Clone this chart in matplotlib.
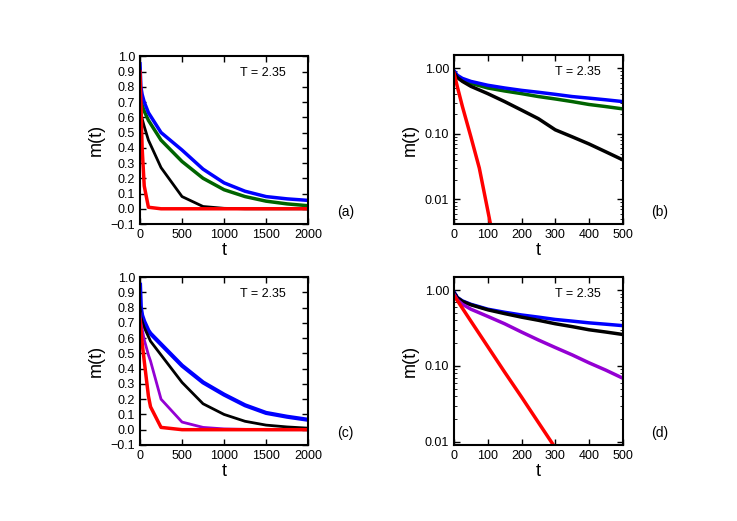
import matplotlib.pyplot as plt
import numpy as np

plt.rcParams['font.family'] = 'Liberation Sans'

# panel (a): linear, long time
t_a = [0, 10, 25, 50, 100, 250, 500, 750, 1000, 1250, 1500, 1750, 2000]
a_blue = [0.95, 0.80, 0.75, 0.70, 0.63, 0.50, 0.385, 0.26, 0.17, 0.115, 0.08, 0.065, 0.055]
a_green = [0.75, 0.72, 0.68, 0.64, 0.58, 0.45, 0.31, 0.20, 0.125, 0.08, 0.05, 0.032, 0.02]
a_black = [0.65, 0.62, 0.59, 0.54, 0.45, 0.27, 0.08, 0.015, 0.003, 0.0, 0.0, 0.0, 0.0]
a_red = [0.90, 0.70, 0.40, 0.15, 0.01, 0.0, 0.0, 0.0, 0.0, 0.0, 0.0, 0.0, 0.0]

# panel (b): log, short time
t_b = [0, 10, 25, 50, 100, 150, 200, 250, 300, 350, 400, 450, 500]
b_blue = [0.92, 0.78, 0.70, 0.63, 0.55, 0.50, 0.46, 0.43, 0.40, 0.37, 0.35, 0.33, 0.31]
b_green = [0.88, 0.76, 0.67, 0.59, 0.50, 0.45, 0.41, 0.37, 0.34, 0.31, 0.28, 0.26, 0.24]
b_black = [0.85, 0.72, 0.63, 0.53, 0.41, 0.31, 0.23, 0.17, 0.115, 0.09, 0.07, 0.053, 0.040]
t_b_red = [0, 10, 25, 50, 75, 100, 108]
b_red = [0.85, 0.52, 0.26, 0.090, 0.030, 0.0068, 0.0042]

# panel (c): linear, long time
t_c = [0, 10, 25, 50, 100, 125, 250, 500, 750, 1000, 1250, 1500, 1750, 2000]
c_blue = [0.95, 0.80, 0.75, 0.71, 0.65, 0.63, 0.56, 0.42, 0.31, 0.23, 0.16, 0.11, 0.085, 0.065]
c_black = [0.80, 0.74, 0.71, 0.67, 0.61, 0.58, 0.49, 0.31, 0.17, 0.10, 0.055, 0.03, 0.018, 0.01]
c_purple = [0.76, 0.70, 0.66, 0.59, 0.49, 0.45, 0.20, 0.05, 0.015, 0.005, 0.002, 0.0, 0.0, 0.0]
c_red = [0.72, 0.66, 0.57, 0.45, 0.22, 0.15, 0.015, 0.0, 0.0, 0.0, 0.0, 0.0, 0.0, 0.0]

# panel (d): log, short time
t_d = [0, 10, 25, 50, 100, 150, 200, 250, 300, 350, 400, 450, 500]
d_blue = [0.95, 0.80, 0.72, 0.65, 0.56, 0.51, 0.47, 0.44, 0.41, 0.39, 0.37, 0.355, 0.34]
d_black = [0.92, 0.79, 0.71, 0.64, 0.55, 0.49, 0.44, 0.40, 0.36, 0.33, 0.30, 0.28, 0.26]
d_purple = [0.88, 0.74, 0.65, 0.56, 0.45, 0.36, 0.28, 0.22, 0.175, 0.14, 0.11, 0.088, 0.069]
t_d_red = [0, 50, 100, 150, 200, 250, 295]
d_red = [0.85, 0.39, 0.18, 0.083, 0.039, 0.018, 0.009]

BLUE = '#0000ff'
GREEN = '#006400'
BLACK = '#000000'
RED = '#ff0000'
PURPLE = '#9400d3'
lw = 2.5

fig = plt.figure(figsize=(7.37, 5.21), dpi=100)
ax_a = fig.add_axes([0.190, 0.570, 0.228, 0.322])
ax_b = fig.add_axes([0.616, 0.570, 0.229, 0.324])
ax_c = fig.add_axes([0.190, 0.146, 0.228, 0.322])
ax_d = fig.add_axes([0.616, 0.146, 0.229, 0.322])

ax_a.plot(t_a, a_green, color=GREEN, lw=lw)
ax_a.plot(t_a, a_blue, color=BLUE, lw=lw)
ax_a.plot(t_a, a_black, color=BLACK, lw=2)
ax_a.plot(t_a, a_red, color=RED, lw=lw)

ax_b.plot(t_b, b_green, color=GREEN, lw=2.5)
ax_b.plot(t_b, b_blue, color=BLUE, lw=2.5)
ax_b.plot(t_b, b_black, color=BLACK, lw=lw)
ax_b.plot(t_b_red, b_red, color=RED, lw=2.5)

ax_c.plot(t_c, c_blue, color=BLUE, lw=3)
ax_c.plot(t_c, c_black, color=BLACK, lw=2)
ax_c.plot(t_c, c_purple, color=PURPLE, lw=2)
ax_c.plot(t_c, c_red, color=RED, lw=lw)

ax_d.plot(t_d, d_blue, color=BLUE, lw=2.5)
ax_d.plot(t_d, d_black, color=BLACK, lw=lw)
ax_d.plot(t_d, d_purple, color=PURPLE, lw=lw)
ax_d.plot(t_d_red, d_red, color=RED, lw=lw)

for ax in (ax_a, ax_c):
    ax.set_xlim(0, 2000)
    ax.set_ylim(-0.1, 1.0)
    ax.set_xticks([0, 500, 1000, 1500, 2000])
    ax.set_yticks(np.round(np.arange(-0.1, 1.01, 0.1), 1))
for ax, lo, hi in ((ax_b, 0.0042, 1.58), (ax_d, 0.0091, 1.48)):
    ax.set_yscale('log')
    ax.set_xlim(0, 500)
    ax.set_ylim(lo, hi)
    ax.set_xticks([0, 100, 200, 300, 400, 500])
    ax.set_yticks([0.01, 0.1, 1.0])
    ax.set_yticklabels(['0.01', '0.10', '1.00'])
    ax.tick_params(which='minor', direction='in', right=True, length=2.5)
    ax.tick_params(axis='y', which='minor', labelleft=False)

for ax, lab in ((ax_a, '(a)'), (ax_b, '(b)'), (ax_c, '(c)'), (ax_d, '(d)')):
    ax.tick_params(direction='in', top=True, right=True, labelsize=9, width=1, length=4)
    for s in ax.spines.values():
        s.set_linewidth(1.5)
    ax.set_xlabel('t', fontsize=13, labelpad=1)
    ax.set_ylabel('m(t)', fontsize=13)
    ax.text(0.87, 0.88, 'T = 2.35', transform=ax.transAxes, ha='right', fontsize=9)
    ax.text(1.17, 0.03, lab, transform=ax.transAxes, ha='left', va='bottom', fontsize=10)

fig.savefig('out.png', dpi=100)
